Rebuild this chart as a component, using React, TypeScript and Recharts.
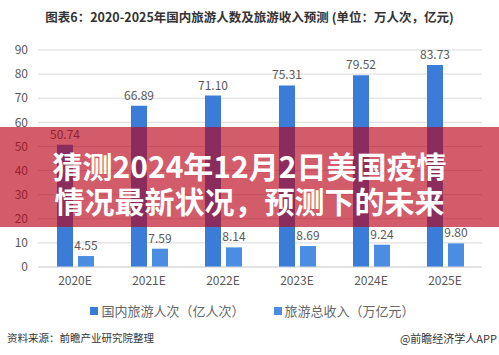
import { BarChart, Bar, XAxis, YAxis, CartesianGrid, LabelList } from 'recharts';

const years = ['2020E', '2021E', '2022E', '2023E', '2024E', '2025E'];
const tourists = [50.74, 66.89, 71.1, 75.31, 79.52, 83.73];
const revenue = [4.55, 7.59, 8.14, 8.69, 9.24, 9.8];
const yTicks = [0, 10, 20, 30, 40, 50, 60, 70, 80, 90];

const seriesNames = ['国内旅游人次（亿人次）', '旅游总收入（万亿元）'];
const colors = ['#3a7cd8', '#4b8de2'];

const data = years.map((year, i) => ({ year, tourists: tourists[i], revenue: revenue[i] }));

const font = '"Noto Sans CJK SC", "Noto Sans", sans-serif';

export default function App() {
  return (
    <div style={{ position: 'absolute', left: 0, top: 0, width: 499, height: 355, background: '#fff', overflow: 'hidden', fontFamily: font }}>
      <div style={{ position: 'absolute', top: 7, left: 0, width: 499, textAlign: 'center', fontSize: 12.5, fontWeight: 700, color: '#333' }}>
        图表6：2020-2025年国内旅游人数及旅游收入预测 (单位：万人次，亿元)
      </div>

      <BarChart
        width={499}
        height={355}
        data={data}
        margin={{ top: 50, right: 17, left: 0, bottom: 58 }}
        barGap={5}
        barSize={16}
      >
        <CartesianGrid vertical={false} stroke="#d9d9d9" />
        <XAxis
          dataKey="year"
          axisLine={{ stroke: '#d9d9d9' }}
          tickLine={false}
          tickSize={0}
          tickMargin={9}
          height={30}
          tick={{ fontSize: 12, fill: '#595959', fontFamily: font }}
        />
        <YAxis
          width={38}
          domain={[0, 90]}
          ticks={yTicks}
          axisLine={false}
          tickLine={false}
          tickSize={0}
          tickMargin={10}
          tick={{ fontSize: 12, fill: '#595959', fontFamily: font }}
        />
        <Bar dataKey="tourists" fill={colors[0]} isAnimationActive={false}>
          <LabelList dataKey="tourists" position="top" offset={6} formatter={(v: number) => v.toFixed(2)} style={{ fontSize: 12, fill: '#595959', fontFamily: font }} />
        </Bar>
        <Bar dataKey="revenue" fill={colors[1]} isAnimationActive={false}>
          <LabelList dataKey="revenue" position="top" offset={6} formatter={(v: number) => v.toFixed(2)} style={{ fontSize: 12, fill: '#595959', fontFamily: font }} />
        </Bar>
      </BarChart>

      <div style={{ position: 'absolute', left: 0, top: 301, width: 499, display: 'flex', justifyContent: 'center', gap: 29, fontSize: 13, color: '#666', paddingLeft: 6, boxSizing: 'border-box' }}>
        {seriesNames.map((name, i) => (
          <span key={name} style={{ display: 'flex', alignItems: 'center' }}>
            <span style={{ width: 8, height: 8, background: colors[i], marginRight: 3, display: 'inline-block' }} />
            {name}
          </span>
        ))}
      </div>

      <div style={{ position: 'absolute', left: 7, top: 330, fontSize: 10.5, color: '#333' }}>资料来源：前瞻产业研究院整理</div>
      <div style={{ position: 'absolute', right: 2, top: 330, fontSize: 11, color: '#333' }}>@前瞻经济学人APP</div>

      <div
        style={{
          position: 'absolute',
          left: 0,
          top: 127,
          width: 499,
          height: 100,
          background: 'rgba(185, 0, 22, 0.64)',
          color: '#fff',
          fontWeight: 700,
          fontSize: 30,
          lineHeight: '35px',
          textAlign: 'center',
          paddingTop: 21,
          boxSizing: 'border-box',
        }}
      >
        <div>猜测2024年12月2日美国疫情</div>
        <div>情况最新状况，预测下的未来</div>
      </div>
    </div>
  );
}
